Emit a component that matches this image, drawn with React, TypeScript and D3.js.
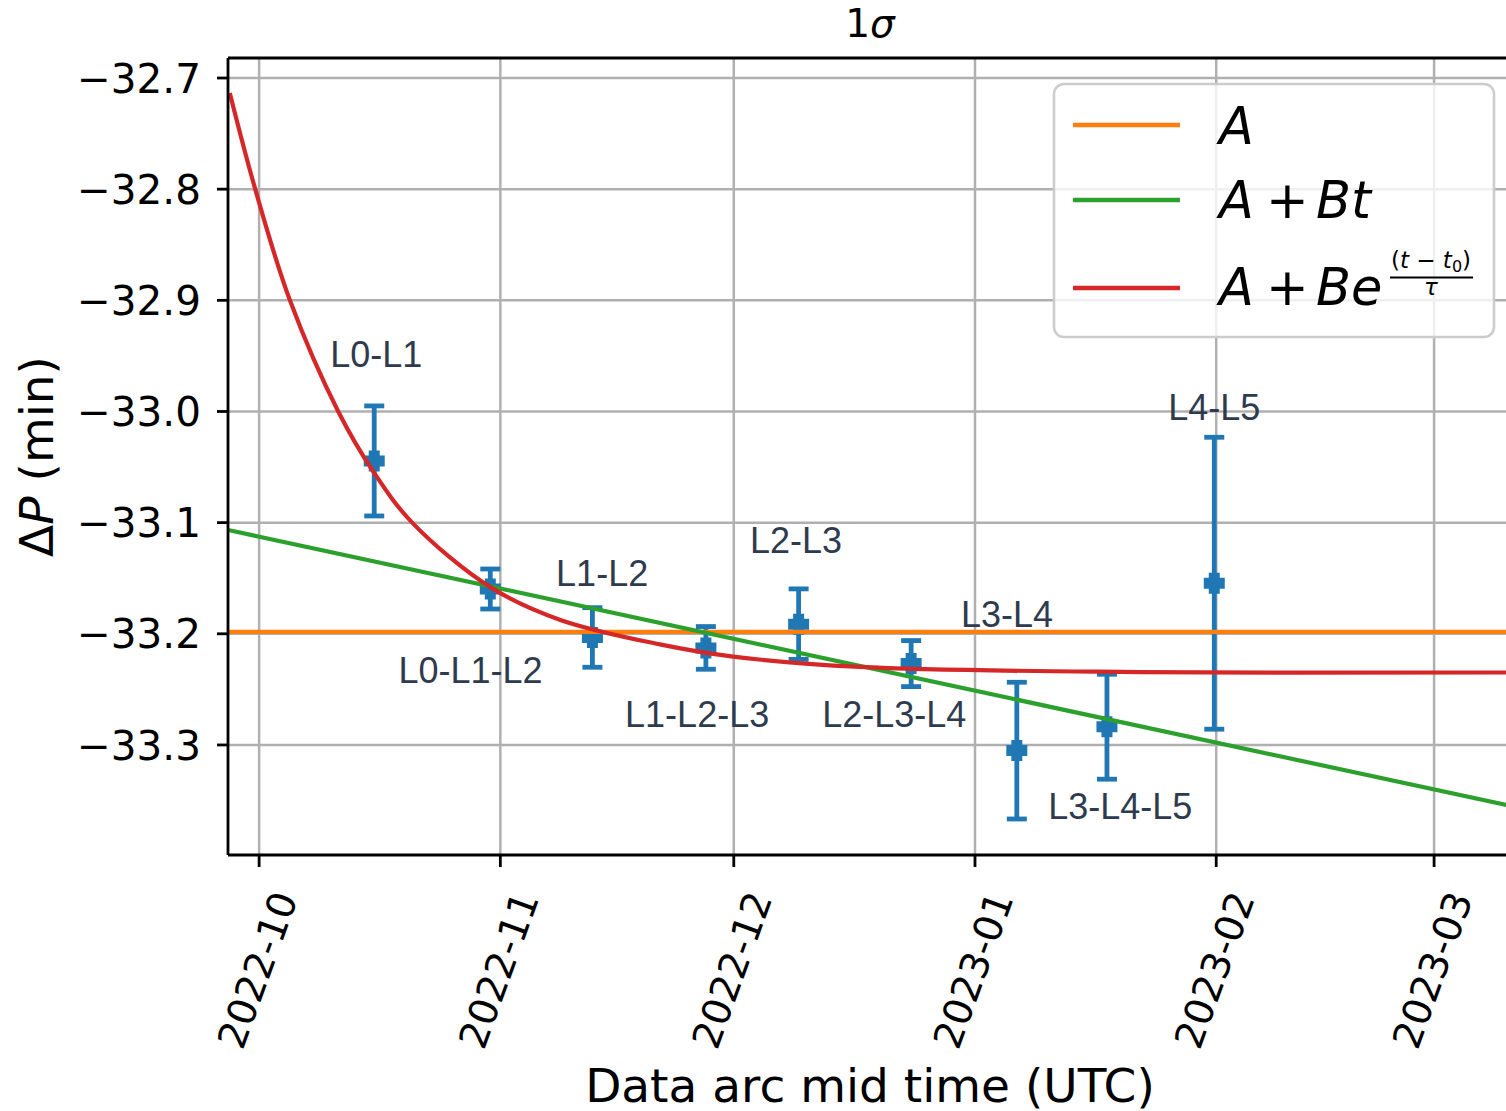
import React from "react";
import * as d3 from "d3";

// arcs and the fitted period offsets (minutes)
const arcNames = ["L0-L1", "L0-L1-L2", "L1-L2", "L1-L2-L3", "L2-L3", "L2-L3-L4", "L3-L4", "L3-L4-L5", "L4-L5"];
const midTimes = [
  "2022-10-15T19:00Z",
  "2022-10-30T17:00Z",
  "2022-11-12T20:00Z",
  "2022-11-27T10:00Z",
  "2022-12-09T08:00Z",
  "2022-12-23T19:00Z",
  "2023-01-06T09:00Z",
  "2023-01-17T23:00Z",
  "2023-01-31T18:00Z",
];
const deltaP = [-33.0445, -33.1597, -33.2033, -33.2127, -33.1913, -33.2268, -33.3051, -33.2836, -33.1545];
const sigma = [0.0495, 0.018, 0.0268, 0.0192, 0.0317, 0.0207, 0.0615, 0.0472, 0.1313];

// where the arc names sit (data coords)
const labelTimes = [
  "2022-10-16T01:00Z",
  "2022-10-28T04:00Z",
  "2022-11-14T02:00Z",
  "2022-11-26T07:00Z",
  "2022-12-09T00:00Z",
  "2022-12-21T15:00Z",
  "2023-01-05T03:00Z",
  "2023-01-19T16:00Z",
  "2023-01-31T18:00Z",
];
const labelValues = [-32.96, -33.244, -33.157, -33.284, -33.127, -33.284, -33.194, -33.367, -33.008];

// fits
const constFit = -33.1983;
const linearTimes = ["2022-09-27T00:00Z", "2023-03-10T07:00Z"];
const linearValues = [-33.1066, -33.354];
const expTimes = [
  "2022-09-27T05:30Z",
  "2022-09-30T12:00Z",
  "2022-10-04T23:00Z",
  "2022-10-11T04:00Z",
  "2022-10-15T16:00Z",
  "2022-10-20T16:00Z",
  "2022-10-30T17:00Z",
  "2022-11-08T17:00Z",
  "2022-11-21T12:00Z",
  "2022-11-30T22:00Z",
  "2022-12-17T05:00Z",
  "2023-01-22T05:00Z",
  "2023-03-10T07:00Z",
];
const expValues = [
  -32.7135, -32.8, -32.9, -33.0, -33.054, -33.1, -33.158, -33.1875, -33.2095, -33.2205, -33.2298, -33.2344,
  -33.2348,
];

const yTicks = [-33.3, -33.2, -33.1, -33.0, -32.9, -32.8, -32.7];
const xTicks = ["2022-10-01", "2022-11-01", "2022-12-01", "2023-01-01", "2023-02-01", "2023-03-01"];

const W = 1506;
const H = 1111;
const left = 228;
const right = 1511.9;
const top = 58;
const bottom = 855;

const blue = "#1f77b4";
const orange = "#ff7f0e";
const green = "#2ca02c";
const red = "#d62728";
const gridColor = "#b0b0b0";
const labelColor = "#2e3b4e";
const dv = "DejaVu Sans, sans-serif";

const x = d3
  .scaleUtc()
  .domain([new Date("2022-09-27T00:00Z"), new Date("2023-03-11T00:00Z")])
  .range([left, right]);
const y = d3.scaleLinear().domain([-33.399, -32.682]).range([bottom, top]);

const line = d3
  .line<[Date, number]>()
  .x((d) => x(d[0]))
  .y((d) => y(d[1]))
  .curve(d3.curveCatmullRom.alpha(0.5));

const fmtX = d3.utcFormat("%Y-%m");
const fmtY = (v: number) => d3.format(".1f")(v).replace("-", "\u2212");

// filled plus marker ("P")
const plus = (s: number, a: number) =>
  `M${-a},${-s}H${a}V${-a}H${s}V${a}H${a}V${s}H${-a}V${a}H${-s}V${-a}H${-a}Z`;

const App = () => {
  const constLine: [Date, number][] = [
    [x.domain()[0], constFit],
    [x.domain()[1], constFit],
  ];
  const linLine: [Date, number][] = linearTimes.map((t, i) => [new Date(t), linearValues[i]]);
  const expLine: [Date, number][] = expTimes.map((t, i) => [new Date(t), expValues[i]]);

  const legendRows = [
    { color: orange, y: 125 },
    { color: green, y: 200 },
    { color: red, y: 288 },
  ];

  return (
    <svg
      width={W}
      height={H}
      style={{ position: "absolute", left: 0, top: 0, display: "block", background: "#fff" }}
    >
      <defs>
        <clipPath id="plotClip">
          <rect x={left} y={top} width={right - left} height={bottom - top} />
        </clipPath>
      </defs>

      {/* grid */}
      <g stroke={gridColor} strokeWidth={2.5}>
        {xTicks.map((t) => (
          <line key={t} x1={x(new Date(t))} x2={x(new Date(t))} y1={top} y2={bottom} />
        ))}
        {yTicks.map((v) => (
          <line key={v} x1={left} x2={right} y1={y(v)} y2={y(v)} />
        ))}
      </g>

      {/* error bars */}
      <g clipPath="url(#plotClip)" stroke={blue} strokeWidth={4.8} fill={blue}>
        {midTimes.map((t, i) => {
          const cx = x(new Date(t));
          const y0 = y(deltaP[i] + sigma[i]);
          const y1 = y(deltaP[i] - sigma[i]);
          return (
            <g key={t}>
              <line x1={cx} x2={cx} y1={y0} y2={y1} />
              <line x1={cx - 10} x2={cx + 10} y1={y0} y2={y0} />
              <line x1={cx - 10} x2={cx + 10} y1={y1} y2={y1} />
              <path d={plus(10.5, 5.5)} transform={`translate(${cx},${y(deltaP[i])})`} stroke="none" />
            </g>
          );
        })}
      </g>

      {/* fits */}
      <g clipPath="url(#plotClip)" fill="none" strokeWidth={4.2}>
        <path d={line(constLine) ?? ""} stroke={orange} />
        <path d={line(linLine) ?? ""} stroke={green} />
        <path d={line(expLine) ?? ""} stroke={red} />
      </g>

      {/* arc names */}
      <g fontFamily="Liberation Sans, Arial, sans-serif" fontSize={36} fill={labelColor} textAnchor="middle">
        {arcNames.map((n, i) => (
          <text key={n} x={x(new Date(labelTimes[i]))} y={y(labelValues[i])}>
            {n}
          </text>
        ))}
      </g>

      {/* spines */}
      <g stroke="#000" strokeWidth={2.8} fill="none">
        <line x1={left} x2={left} y1={top} y2={bottom} />
        <line x1={left} x2={right} y1={top} y2={top} />
        <line x1={left} x2={right} y1={bottom} y2={bottom} />
        <line x1={right} x2={right} y1={top} y2={bottom} />
      </g>

      {/* y axis */}
      <g fontFamily={dv} fontSize={40.5} fill="#000">
        {yTicks.map((v) => (
          <g key={v}>
            <line x1={left - 11} x2={left} y1={y(v)} y2={y(v)} stroke="#000" strokeWidth={2.8} />
            <text x={201} y={y(v)} dy="0.36em" textAnchor="end">
              {fmtY(v)}
            </text>
          </g>
        ))}
      </g>

      {/* x axis */}
      <g fontFamily={dv} fontSize={39} fill="#000">
        {xTicks.map((t) => {
          const tx = x(new Date(t));
          return (
            <g key={t}>
              <line x1={tx} x2={tx} y1={bottom} y2={bottom + 12} stroke="#000" strokeWidth={2.8} />
              <text
                transform={`translate(${tx - 2},970) rotate(-70)`}
                textAnchor="middle"
                dy="0.36em"
              >
                {fmtX(new Date(t))}
              </text>
            </g>
          );
        })}
      </g>

      {/* titles */}
      <text x={(left + right) / 2} y={37} textAnchor="middle" fontFamily={dv} fontSize={39}>
        1<tspan fontStyle="italic">σ</tspan>
      </text>
      <text x={(left + right) / 2} y={1102} textAnchor="middle" fontFamily={dv} fontSize={47}>
        Data arc mid time (UTC)
      </text>
      <text
        transform={`translate(53,${(top + bottom) / 2}) rotate(-90)`}
        textAnchor="middle"
        fontFamily={dv}
        fontSize={47}
      >
        Δ<tspan fontStyle="italic">P</tspan> (min)
      </text>

      {/* legend */}
      <g>
        <rect
          x={1054}
          y={84}
          width={440}
          height={253}
          rx={10}
          fill="#fff"
          fillOpacity={0.8}
          stroke="#cccccc"
          strokeWidth={2.5}
        />
        {legendRows.map((r) => (
          <line key={r.color} x1={1073} x2={1180} y1={r.y} y2={r.y} stroke={r.color} strokeWidth={4.5} />
        ))}
        <g fontFamily={dv} fontSize={51} fill="#000">
          <text y={144}>
            <tspan x={1219} fontStyle="italic">A</tspan>
          </text>
          <text y={218}>
            <tspan x={1219} fontStyle="italic">A</tspan>
            <tspan x={1266}>+</tspan>
            <tspan x={1316} fontStyle="italic">B</tspan>
            <tspan x={1351} fontStyle="italic">t</tspan>
          </text>
          <text y={305}>
            <tspan x={1219} fontStyle="italic">A</tspan>
            <tspan x={1266}>+</tspan>
            <tspan x={1316} fontStyle="italic">B</tspan>
            <tspan x={1351} fontStyle="italic">e</tspan>
          </text>
        </g>
        <g fontFamily={dv} fontSize={23} fill="#000">
          <text x={1431} y={268} textAnchor="middle">
            (<tspan fontStyle="italic">t</tspan> − <tspan fontStyle="italic">t</tspan>
            <tspan fontSize={16} dy={4}>0</tspan>
            <tspan dy={-4}>)</tspan>
          </text>
          <line x1={1390} x2={1473} y1={277.5} y2={277.5} stroke="#000" strokeWidth={1.8} />
          <text x={1431} y={295} textAnchor="middle" fontStyle="italic">
            τ
          </text>
        </g>
      </g>
    </svg>
  );
};

export default App;
